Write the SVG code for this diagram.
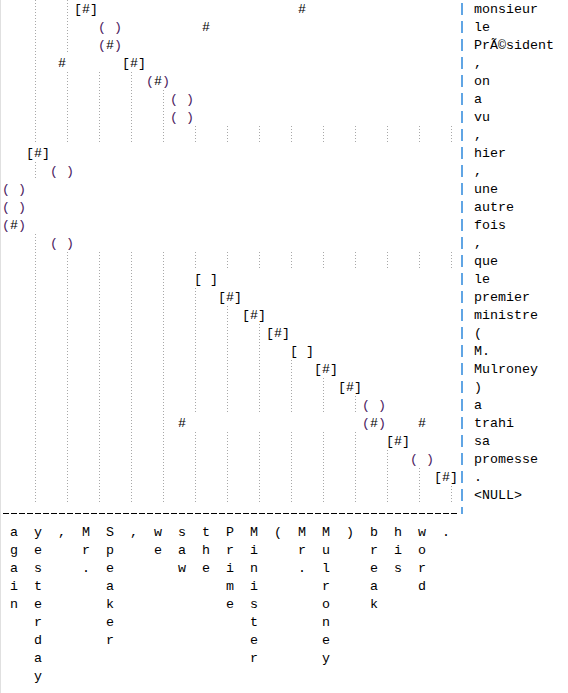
<svg xmlns="http://www.w3.org/2000/svg" width="568" height="693" viewBox="0 0 568 693">
<style>
text{font-family:"Liberation Mono","Courier New",monospace;font-size:13.33px;fill:#000}
.m{text-anchor:middle}
.p{fill:#4b1a5e}
.grid{fill:none;stroke:#a8a8a8;stroke-width:1;stroke-dasharray:1 2}
.bar{stroke:#3a8fde;stroke-width:1.6;stroke-dasharray:12 6}
</style>
<rect x="0" y="0" width="568" height="693" fill="#fff"/>
<line x1="0.5" y1="0" x2="0.5" y2="693" stroke="#e0e0e0"/>
<g id="connectors">
<path class="grid" d="M35.5 0V144M35.5 162V180M35.5 234V504
M67.5 0V54M67.5 72V144M67.5 252V504
M99.5 72V144M99.5 252V504
M131.5 72V144M131.5 252V504
M163.5 90V144M163.5 252V504
M195.5 126V144M195.5 252V270M195.5 288V414M195.5 432V504
M227.5 126V144M227.5 252V270M227.5 306V414M227.5 432V504
M259.5 126V144M259.5 252V270M259.5 324V414M259.5 432V504
M291.5 126V144M291.5 252V270M291.5 360V414M291.5 432V504
M323.5 126V144M323.5 252V270M323.5 378V414M323.5 432V504
M355.5 126V144M355.5 252V270M355.5 396V414M355.5 432V504
M387.5 126V144M387.5 252V270M387.5 450V504
M419.5 126V144M419.5 252V270M419.5 468V504
M451.5 126V144M451.5 252V270M451.5 486V504"/>
<line class="bar" x1="462" y1="3" x2="462" y2="514"/>
<line x1="3" y1="513.5" x2="458" y2="513.5" stroke="#000" stroke-width="1" stroke-dasharray="6 2"/>
</g>
<g id="marks">
<text class="m" x="86" y="13">[#]</text><text class="m" x="302" y="13">#</text>
<text class="m" x="110" y="31"><tspan class="p">(</tspan> <tspan class="p">)</tspan></text><text class="m" x="206" y="31">#</text>
<text class="m" x="110" y="49"><tspan class="p">(</tspan>#<tspan class="p">)</tspan></text>
<text class="m" x="62" y="67">#</text><text class="m" x="134" y="67">[#]</text>
<text class="m" x="158" y="85"><tspan class="p">(</tspan>#<tspan class="p">)</tspan></text>
<text class="m" x="182" y="103"><tspan class="p">(</tspan> <tspan class="p">)</tspan></text>
<text class="m" x="182" y="121"><tspan class="p">(</tspan> <tspan class="p">)</tspan></text>
<text class="m" x="38" y="157">[#]</text>
<text class="m" x="62" y="175"><tspan class="p">(</tspan> <tspan class="p">)</tspan></text>
<text class="m" x="14" y="193"><tspan class="p">(</tspan> <tspan class="p">)</tspan></text>
<text class="m" x="14" y="211"><tspan class="p">(</tspan> <tspan class="p">)</tspan></text>
<text class="m" x="14" y="229"><tspan class="p">(</tspan>#<tspan class="p">)</tspan></text>
<text class="m" x="62" y="247"><tspan class="p">(</tspan> <tspan class="p">)</tspan></text>
<text class="m" x="206" y="283">[ ]</text>
<text class="m" x="230" y="301">[#]</text>
<text class="m" x="254" y="319">[#]</text>
<text class="m" x="278" y="337">[#]</text>
<text class="m" x="302" y="355">[ ]</text>
<text class="m" x="326" y="373">[#]</text>
<text class="m" x="350" y="391">[#]</text>
<text class="m" x="374" y="409"><tspan class="p">(</tspan> <tspan class="p">)</tspan></text>
<text class="m" x="182" y="427">#</text><text class="m" x="374" y="427"><tspan class="p">(</tspan>#<tspan class="p">)</tspan></text><text class="m" x="422" y="427">#</text>
<text class="m" x="398" y="445">[#]</text>
<text class="m" x="422" y="463"><tspan class="p">(</tspan> <tspan class="p">)</tspan></text>
<text class="m" x="446" y="481">[#]</text>
</g>
<g id="french">
<text x="474" y="13">monsieur</text>
<text x="474" y="31">le</text>
<text x="474" y="49">PrÃ©sident</text>
<text x="474" y="67">,</text>
<text x="474" y="85">on</text>
<text x="474" y="103">a</text>
<text x="474" y="121">vu</text>
<text x="474" y="139">,</text>
<text x="474" y="157">hier</text>
<text x="474" y="175">,</text>
<text x="474" y="193">une</text>
<text x="474" y="211">autre</text>
<text x="474" y="229">fois</text>
<text x="474" y="247">,</text>
<text x="474" y="265">que</text>
<text x="474" y="283">le</text>
<text x="474" y="301">premier</text>
<text x="474" y="319">ministre</text>
<text x="474" y="337">(</text>
<text x="474" y="355">M.</text>
<text x="474" y="373">Mulroney</text>
<text x="474" y="391">)</text>
<text x="474" y="409">a</text>
<text x="474" y="427">trahi</text>
<text x="474" y="445">sa</text>
<text x="474" y="463">promesse</text>
<text x="474" y="481">.</text>
<text x="474" y="499">&lt;NULL&gt;</text>
</g>
<g id="english">
<text class="m" y="536"><tspan x="14">a</tspan><tspan x="14" dy="18">g</tspan><tspan x="14" dy="18">a</tspan><tspan x="14" dy="18">i</tspan><tspan x="14" dy="18">n</tspan></text>
<text class="m" y="536"><tspan x="38">y</tspan><tspan x="38" dy="18">e</tspan><tspan x="38" dy="18">s</tspan><tspan x="38" dy="18">t</tspan><tspan x="38" dy="18">e</tspan><tspan x="38" dy="18">r</tspan><tspan x="38" dy="18">d</tspan><tspan x="38" dy="18">a</tspan><tspan x="38" dy="18">y</tspan></text>
<text class="m" x="62" y="536">,</text>
<text class="m" y="536"><tspan x="86">M</tspan><tspan x="86" dy="18">r</tspan><tspan x="86" dy="18">.</tspan></text>
<text class="m" y="536"><tspan x="110">S</tspan><tspan x="110" dy="18">p</tspan><tspan x="110" dy="18">e</tspan><tspan x="110" dy="18">a</tspan><tspan x="110" dy="18">k</tspan><tspan x="110" dy="18">e</tspan><tspan x="110" dy="18">r</tspan></text>
<text class="m" x="134" y="536">,</text>
<text class="m" y="536"><tspan x="158">w</tspan><tspan x="158" dy="18">e</tspan></text>
<text class="m" y="536"><tspan x="182">s</tspan><tspan x="182" dy="18">a</tspan><tspan x="182" dy="18">w</tspan></text>
<text class="m" y="536"><tspan x="206">t</tspan><tspan x="206" dy="18">h</tspan><tspan x="206" dy="18">e</tspan></text>
<text class="m" y="536"><tspan x="230">P</tspan><tspan x="230" dy="18">r</tspan><tspan x="230" dy="18">i</tspan><tspan x="230" dy="18">m</tspan><tspan x="230" dy="18">e</tspan></text>
<text class="m" y="536"><tspan x="254">M</tspan><tspan x="254" dy="18">i</tspan><tspan x="254" dy="18">n</tspan><tspan x="254" dy="18">i</tspan><tspan x="254" dy="18">s</tspan><tspan x="254" dy="18">t</tspan><tspan x="254" dy="18">e</tspan><tspan x="254" dy="18">r</tspan></text>
<text class="m" x="278" y="536">(</text>
<text class="m" y="536"><tspan x="302">M</tspan><tspan x="302" dy="18">r</tspan><tspan x="302" dy="18">.</tspan></text>
<text class="m" y="536"><tspan x="326">M</tspan><tspan x="326" dy="18">u</tspan><tspan x="326" dy="18">l</tspan><tspan x="326" dy="18">r</tspan><tspan x="326" dy="18">o</tspan><tspan x="326" dy="18">n</tspan><tspan x="326" dy="18">e</tspan><tspan x="326" dy="18">y</tspan></text>
<text class="m" x="350" y="536">)</text>
<text class="m" y="536"><tspan x="374">b</tspan><tspan x="374" dy="18">r</tspan><tspan x="374" dy="18">e</tspan><tspan x="374" dy="18">a</tspan><tspan x="374" dy="18">k</tspan></text>
<text class="m" y="536"><tspan x="398">h</tspan><tspan x="398" dy="18">i</tspan><tspan x="398" dy="18">s</tspan></text>
<text class="m" y="536"><tspan x="422">w</tspan><tspan x="422" dy="18">o</tspan><tspan x="422" dy="18">r</tspan><tspan x="422" dy="18">d</tspan></text>
<text class="m" x="446" y="536">.</text>
</g>
</svg>
